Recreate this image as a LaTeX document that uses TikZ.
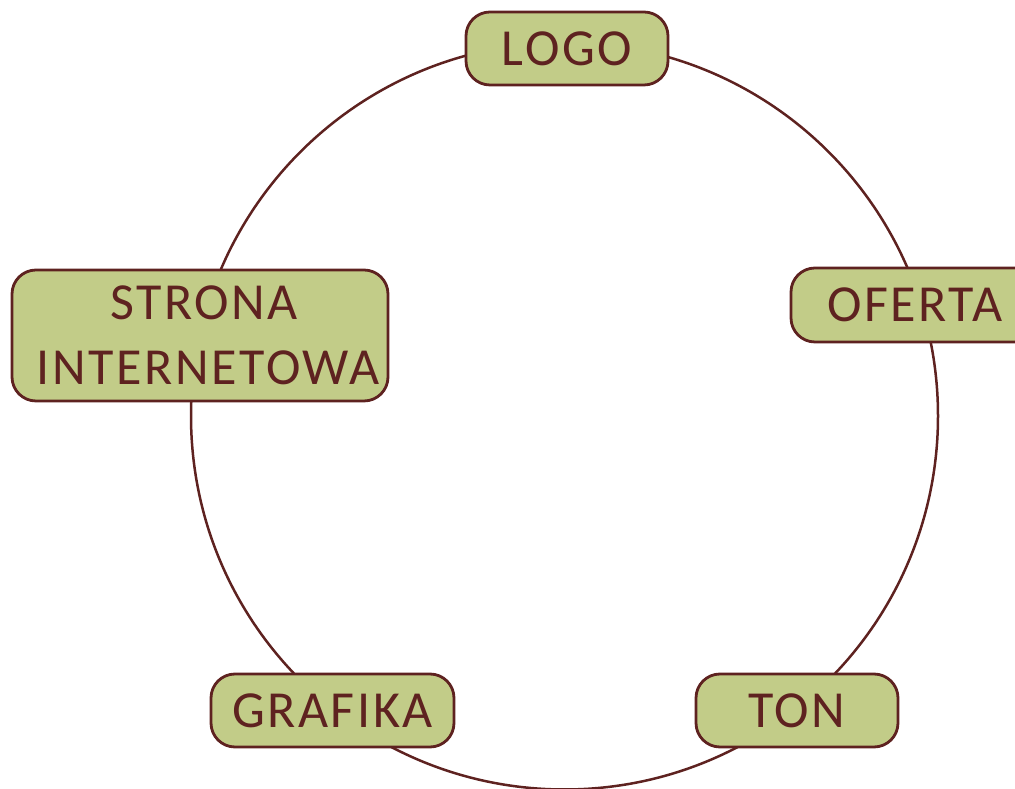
\documentclass[tikz,border=0pt]{standalone}
\usepackage{fontspec}
\setmainfont{Carlito}[LetterSpace=5]
\definecolor{boxfill}{HTML}{C2CC88}
\definecolor{brown}{HTML}{5E2220}
\begin{document}
\begin{tikzpicture}[x=1pt,y=1pt,
  topic/.style={draw=brown, line width=2.8pt, fill=boxfill, rounded corners=24pt,
    text=brown, font={\fontsize{52}{65}\selectfont}, align=center,
    inner sep=0pt, outer sep=0pt}]
\useasboundingbox (0,0) rectangle (1015,789);
\coordinate (c) at (564.5,373);
\draw[brown, line width=2.5pt] (c) circle (373.5);
\node[topic, minimum width=202pt, minimum height=73pt] (logo) at (567,740.5) {LOGO};
\node[topic, minimum width=248pt, minimum height=74pt] (oferta) at (915,484) {OFERTA};
\node[topic, minimum width=376pt, minimum height=131pt] (strona) at (200,453.5) {\hspace*{8pt}STRONA\\\hspace*{16pt}INTERNETOWA};
\node[topic, minimum width=243pt, minimum height=73pt] (grafika) at (332.5,78.5) {GRAFIKA};
\node[topic, minimum width=202pt, minimum height=73pt] (ton) at (797,78.5) {TON};
\end{tikzpicture}
\end{document}
